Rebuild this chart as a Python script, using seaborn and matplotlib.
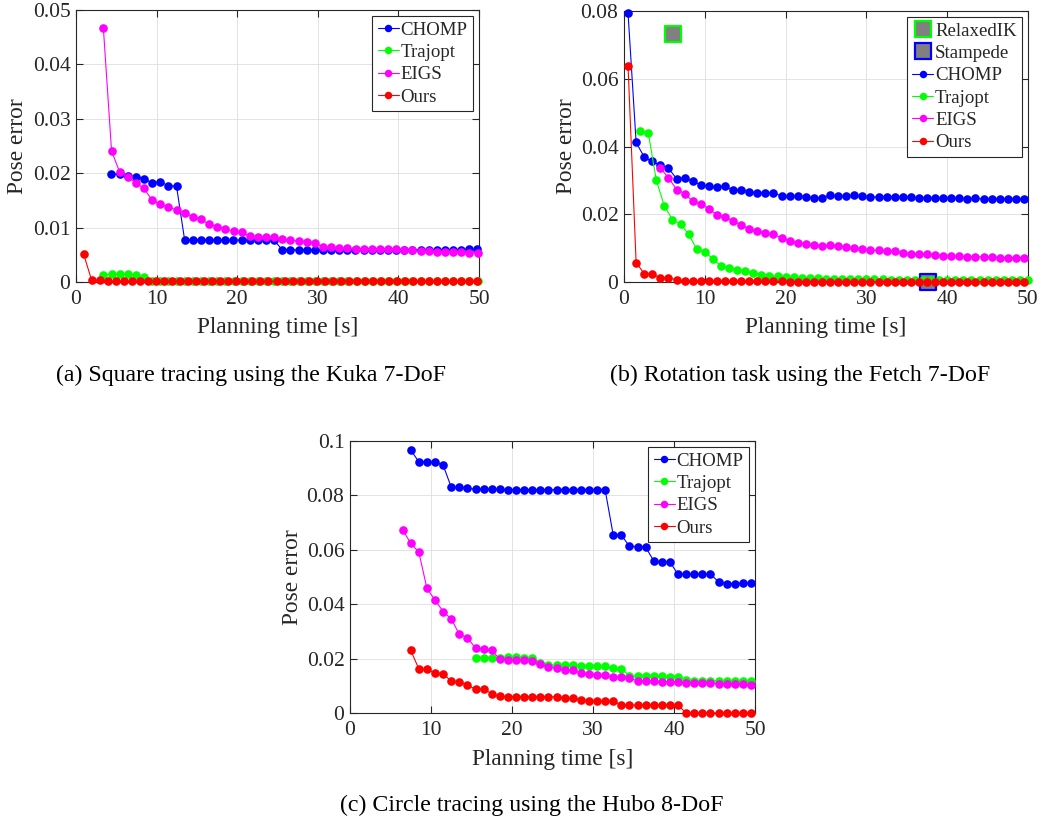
import numpy as np
import matplotlib
matplotlib.use("Agg")
import matplotlib.pyplot as plt
from matplotlib.lines import Line2D
from matplotlib.ticker import FuncFormatter
import seaborn as sns

# ---------------- data ----------------
series_names = ["CHOMP", "Trajopt", "EIGS", "Ours"]
series_colors = {"CHOMP": "#0000ff", "Trajopt": "#00ff00", "EIGS": "#ff00ff", "Ours": "#ff0000"}

# panel (a): Square tracing, Kuka 7-DoF  (start time, step, values)
a_chomp_start, a_chomp_step = 4.4, 1.009
a_chomp = [0.0199, 0.0198, 0.0194, 0.0193, 0.0190, 0.0182, 0.0184, 0.0177, 0.0176,
           0.0077, 0.0077, 0.0077, 0.0077, 0.0077, 0.0077, 0.0077, 0.0077, 0.0077, 0.0077, 0.0077, 0.0077,
           0.0059, 0.0059, 0.0059, 0.0059, 0.0059, 0.0059, 0.0059, 0.0059, 0.0059, 0.0059,
           0.0059, 0.0059, 0.0059, 0.0059, 0.0059, 0.0059, 0.0059, 0.0059, 0.0059, 0.0059,
           0.0059, 0.0059, 0.0059, 0.0060, 0.0060]
a_traj_start, a_traj_step = 3.4, 1.009
a_traj = [0.00135, 0.0014, 0.0014, 0.0014, 0.0013, 0.0009,
          0.0001, 0.0001, 0.0001, 0.0001, 0.0001, 0.0001, 0.0001, 0.0001, 0.0001, 0.0001,
          0.0001, 0.0001, 0.0001, 0.0001, 0.0001, 0.0001, 0.0001, 0.0001, 0.0001, 0.0001,
          0.0001, 0.0001, 0.0001, 0.0001, 0.0001, 0.0001, 0.0001, 0.0001, 0.0001, 0.0001,
          0.0001, 0.0001, 0.0001, 0.0001, 0.0001, 0.0001, 0.0001, 0.0001, 0.0001, 0.0001, 0.0001]
a_eigs_start, a_eigs_step = 3.4, 1.009
a_eigs = [0.0466, 0.0241, 0.0202, 0.0193, 0.0182, 0.0172, 0.0150, 0.0143, 0.0138, 0.0132,
          0.0127, 0.0120, 0.0115, 0.0106, 0.0102, 0.0098, 0.0093, 0.0091, 0.0085, 0.0083,
          0.0082, 0.0082, 0.0079, 0.0077, 0.0075, 0.0074, 0.0072, 0.0064, 0.0064, 0.0063,
          0.0062, 0.0061, 0.0061, 0.0061, 0.0061, 0.0060, 0.0060, 0.0058, 0.0058, 0.0057,
          0.0057, 0.0056, 0.0056, 0.0055, 0.0055, 0.0054, 0.0054]
a_ours_start, a_ours_step = 0.95, 0.997
a_ours = [0.0051, 0.0003, 0.0003, 0.0001, 0.0001, 0.0001, 0.0001, 0.0001, 0.0001, 0.0001,
          0.0001, 0.0001, 0.0001, 0.0001, 0.0001, 0.0001, 0.0001, 0.0001, 0.0001, 0.0001,
          0.0001, 0.0001, 0.0001, 0.0001, 0.0001, 0.0001, 0.0001, 0.0001, 0.0001, 0.0001,
          0.0001, 0.0001, 0.0001, 0.0001, 0.0001, 0.0001, 0.0001, 0.0001, 0.0001, 0.0001,
          0.0001, 0.0001, 0.0001, 0.0001, 0.0001, 0.0001, 0.0001, 0.0001, 0.0001, 0.0001]

# panel (b): Rotation task, Fetch 7-DoF
b_chomp_start, b_chomp_step = 0.5, 1.0
b_chomp = [0.0794, 0.0412, 0.0369, 0.0356, 0.0344, 0.0336, 0.0305, 0.0307, 0.0297, 0.0287,
           0.0282, 0.0280, 0.0282, 0.0271, 0.0273, 0.0266, 0.0264, 0.0263, 0.0264, 0.0253,
           0.0253, 0.0253, 0.0251, 0.0249, 0.0248, 0.0256, 0.0253, 0.0253, 0.0256, 0.0253,
           0.0251, 0.0251, 0.0251, 0.0251, 0.0250, 0.0250, 0.0249, 0.0248, 0.0248, 0.0248,
           0.0248, 0.0247, 0.0246, 0.0247, 0.0245, 0.0245, 0.0245, 0.0245, 0.0245, 0.0244]
b_traj_start, b_traj_step = 2.0, 1.0
b_traj = [0.0445, 0.0441, 0.0300, 0.0224, 0.0184, 0.0171, 0.0141, 0.0097, 0.0089, 0.0068,
          0.0047, 0.0042, 0.0036, 0.0031, 0.0027, 0.0022, 0.0019, 0.0017, 0.0015, 0.0014,
          0.0013, 0.0012, 0.0011, 0.0010, 0.0009, 0.0009, 0.0009, 0.0008, 0.0008, 0.0008,
          0.0008, 0.0007, 0.0007, 0.0007, 0.0007, 0.0007, 0.0006, 0.0006, 0.0006, 0.0006,
          0.0006, 0.0006, 0.0005, 0.0005, 0.0005, 0.0005, 0.0005, 0.0005, 0.0005]
b_eigs_start, b_eigs_step = 4.5, 1.0
b_eigs = [0.0336, 0.0308, 0.0273, 0.0261, 0.0238, 0.0231, 0.0215, 0.0199, 0.0192, 0.0180,
          0.0167, 0.0157, 0.0150, 0.0145, 0.0141, 0.0130, 0.0121, 0.0114, 0.0111, 0.0109,
          0.0107, 0.0108, 0.0105, 0.0102, 0.0099, 0.0097, 0.0094, 0.0093, 0.0092, 0.0091,
          0.0086, 0.0084, 0.0083, 0.0082, 0.0080, 0.0078, 0.0077, 0.0076, 0.0075, 0.0075,
          0.0074, 0.0073, 0.0072, 0.0072, 0.0071, 0.0071]
b_ours_start, b_ours_step = 0.5, 1.0
b_ours = [0.0638, 0.0057, 0.0025, 0.0023, 0.0013, 0.0012, 0.0007, 0.0003, 0.0003, 0.0002,
          0.0002, 0.0002, 0.0002, 0.0002, 0.0002, 0.0002, 0.0002, 0.0002, 0.0002, 0.0002,
          0.0001, 0.0001, 0.0001, 0.0001, 0.0001, 0.0001, 0.0001, 0.0001, 0.0001, 0.0001,
          0.0001, 0.0001, 0.0001, 0.0001, 0.0001, 0.0001, 0.0001, 0.0001, 0.0001, 0.0001,
          0.0001, 0.0001, 0.0001, 0.0001, 0.0001, 0.0001, 0.0001, 0.0001, 0.0001, 0.0001]
relaxedik_x, relaxedik_y = [6.1], [0.0733]
stampede_x, stampede_y = [37.6], [0.0]

# panel (c): Circle tracing, Hubo 8-DoF
c_chomp_start, c_chomp_step = 7.5, 1.0
c_chomp = [0.0967, 0.0923, 0.0923, 0.0923, 0.0911, 0.0830, 0.0830, 0.0826, 0.0823, 0.0823,
           0.0823, 0.0822, 0.0821, 0.0821, 0.0821, 0.0821, 0.0821, 0.0821, 0.0821, 0.0821,
           0.0821, 0.0821, 0.0820, 0.0820, 0.0820, 0.0654, 0.0654, 0.0613, 0.0612, 0.0610,
           0.0559, 0.0555, 0.0555, 0.0510, 0.0510, 0.0510, 0.0510, 0.0511, 0.0482, 0.0475,
           0.0476, 0.0477, 0.0477]
c_traj_start, c_traj_step = 15.5, 1.0
c_traj = [0.0202, 0.0203, 0.0203, 0.0204, 0.0206, 0.0206, 0.0204, 0.0204, 0.0183, 0.0176,
          0.0176, 0.0176, 0.0175, 0.0174, 0.0174, 0.0173, 0.0171, 0.0164, 0.0163, 0.0137,
          0.0135, 0.0135, 0.0135, 0.0135, 0.0134, 0.0134, 0.0122, 0.0119, 0.0119, 0.0119,
          0.0118, 0.0118, 0.0118, 0.0118, 0.0118]
c_eigs_start, c_eigs_step = 6.5, 1.0
c_eigs = [0.0673, 0.0624, 0.0591, 0.0458, 0.0415, 0.0373, 0.0346, 0.0289, 0.0277, 0.0238,
          0.0235, 0.0230, 0.0198, 0.0195, 0.0196, 0.0195, 0.0193, 0.0179, 0.0169, 0.0165,
          0.0157, 0.0157, 0.0147, 0.0144, 0.0141, 0.0138, 0.0132, 0.0131, 0.0127, 0.0119,
          0.0117, 0.0116, 0.0114, 0.0114, 0.0114, 0.0111, 0.0110, 0.0110, 0.0110, 0.0108,
          0.0108, 0.0108, 0.0106, 0.0104]
c_ours_start, c_ours_step = 7.5, 1.0
c_ours = [0.0230, 0.0162, 0.0162, 0.0146, 0.0145, 0.0116, 0.0114, 0.0103, 0.0087, 0.0088,
          0.0071, 0.0061, 0.0060, 0.0060, 0.0060, 0.0060, 0.0060, 0.0060, 0.0059, 0.0054,
          0.0054, 0.0049, 0.0045, 0.0043, 0.0043, 0.0043, 0.0029, 0.0029, 0.0029, 0.0029,
          0.0029, 0.0029, 0.0029, 0.0029, 0.0000, 0.0000, 0.0000, 0.0000, 0.0000, 0.0000,
          0.0000, 0.0000, 0.0000]

x_ticks = [0, 10, 20, 30, 40, 50]
a_yticks = [0, 0.01, 0.02, 0.03, 0.04, 0.05]
b_yticks = [0, 0.02, 0.04, 0.06, 0.08]
c_yticks = [0, 0.02, 0.04, 0.06, 0.08, 0.1]
captions = ["(a) Square tracing using the Kuka 7-DoF",
            "(b) Rotation task using the Fetch 7-DoF",
            "(c) Circle tracing using the Hubo 8-DoF"]
xlabel_text = "Planning time [s]"
ylabel_text = "Pose error"

# ---------------- style ----------------
sns.set_theme(style="whitegrid")
plt.rcParams["font.family"] = ["Liberation Serif", "DejaVu Serif"]
DARK = "#262626"
GRID = "#dedede"

W, H = 1043, 825
fig = plt.figure(figsize=(W / 100, H / 100), dpi=100)
fig.patch.set_facecolor("white")


def axes_px(x0, y0, x1, y1):
    return fig.add_axes([x0 / W, 1 - y1 / H, (x1 - x0) / W, (y1 - y0) / H])


def times(start, step, vals):
    return start + step * np.arange(len(vals))


def draw_series(ax, data):
    for name, (start, step, vals) in zip(series_names, data):
        sns.lineplot(x=times(start, step, vals), y=vals, ax=ax, color=series_colors[name],
                     marker="o", markersize=6.2, markeredgewidth=0, linewidth=0.8,
                     clip_on=False, zorder=3, legend=False, sort=False, errorbar=None)


def style_axes(ax, yticks, ymax, cap, cap_y):
    ax.set_xlim(0, 50)
    ax.set_ylim(0, ymax)
    ax.set_xticks(x_ticks)
    ax.set_yticks(yticks)
    ax.yaxis.set_major_formatter(FuncFormatter(lambda v, p: "%g" % round(v, 4)))
    ax.tick_params(axis="both", which="major", direction="in", length=5, width=0.8,
                   top=True, right=True, bottom=True, left=True,
                   labelsize=15.5, colors=DARK)
    ax.tick_params(axis="x", pad=6)
    ax.tick_params(axis="y", pad=4)
    ax.grid(True, color=GRID, linewidth=0.6)
    ax.set_axisbelow(True)
    ax.set_facecolor("white")
    for s in ax.spines.values():
        s.set_visible(True)
        s.set_color(DARK)
        s.set_linewidth(0.8)
    ax.set_xlabel(xlabel_text, fontsize=16.8, color=DARK)
    ax.set_ylabel(ylabel_text, fontsize=16.8, color=DARK)
    bb = ax.get_position()
    hpx = bb.height * H
    wpx = bb.width * W
    ax.xaxis.set_label_coords(0.5, -46 / hpx)
    ax.xaxis.label.set_va("center")
    ax.yaxis.set_label_coords(-58 / wpx, 0.5)
    ax.yaxis.label.set_va("center")
    fig.text(cap[0] / W, 1 - cap_y / H, cap[1], ha="center", va="center",
             fontsize=17.2, color="black")


def series_handles():
    return [Line2D([], [], color=series_colors[n], marker="o", markersize=5.4,
                   markeredgewidth=0, linewidth=0.8) for n in series_names]


def add_legend(ax, handles, labels):
    leg = ax.legend(handles, labels, loc="upper right", fontsize=13.6, frameon=True,
                    fancybox=False, edgecolor=DARK, facecolor="white", framealpha=1,
                    borderpad=0.3, labelspacing=0.27, handlelength=1.1,
                    handletextpad=0.1, borderaxespad=0.3)
    leg.get_frame().set_linewidth(0.8)
    leg.set_zorder(10)


# panel (a)
ax_a = axes_px(76, 10, 479, 282)
draw_series(ax_a, [(a_chomp_start, a_chomp_step, a_chomp), (a_traj_start, a_traj_step, a_traj),
                   (a_eigs_start, a_eigs_step, a_eigs), (a_ours_start, a_ours_step, a_ours)])
style_axes(ax_a, a_yticks, 0.05, (251, captions[0]), 375)
add_legend(ax_a, series_handles(), series_names)

# panel (b)
ax_b = axes_px(624, 11, 1028, 282)
sns.scatterplot(x=relaxedik_x, y=relaxedik_y, ax=ax_b, marker="s", s=11.5 ** 2,
                color="#808080", edgecolor="#00ff00", linewidth=1.6, clip_on=False,
                zorder=2, legend=False)
sns.scatterplot(x=stampede_x, y=stampede_y, ax=ax_b, marker="s", s=11.5 ** 2,
                color="#808080", edgecolor="#0000ff", linewidth=1.6, clip_on=False,
                zorder=2, legend=False)
draw_series(ax_b, [(b_chomp_start, b_chomp_step, b_chomp), (b_traj_start, b_traj_step, b_traj),
                   (b_eigs_start, b_eigs_step, b_eigs), (b_ours_start, b_ours_step, b_ours)])
style_axes(ax_b, b_yticks, 0.08, (800, captions[1]), 375)
sq_handles = [Line2D([], [], linestyle="none", marker="s", markersize=11,
                     markerfacecolor="#808080", markeredgecolor="#00ff00", markeredgewidth=1.6),
              Line2D([], [], linestyle="none", marker="s", markersize=11,
                     markerfacecolor="#808080", markeredgecolor="#0000ff", markeredgewidth=1.6)]
add_legend(ax_b, sq_handles + series_handles(), ["RelaxedIK", "Stampede"] + series_names)

# panel (c)
ax_c = axes_px(350, 441, 755, 713)
draw_series(ax_c, [(c_chomp_start, c_chomp_step, c_chomp), (c_traj_start, c_traj_step, c_traj),
                   (c_eigs_start, c_eigs_step, c_eigs), (c_ours_start, c_ours_step, c_ours)])
style_axes(ax_c, c_yticks, 0.1, (532, captions[2]), 805)
add_legend(ax_c, series_handles(), series_names)

fig.savefig("out.png", dpi=100, facecolor="white")
